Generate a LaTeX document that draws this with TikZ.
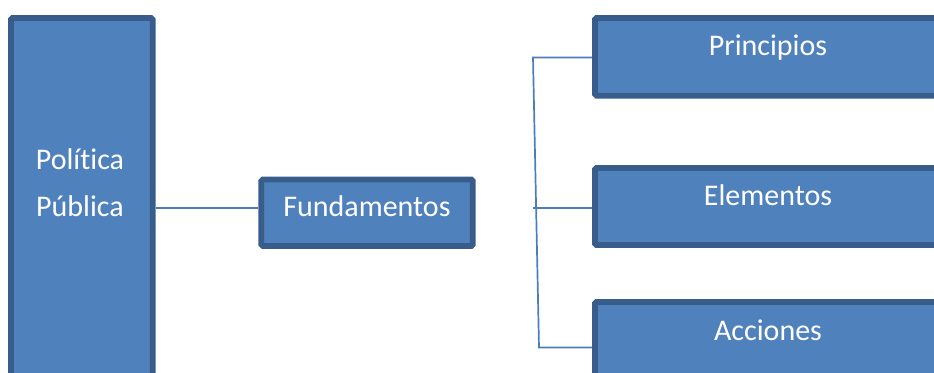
\documentclass[tikz,border=0pt]{standalone}
\usepackage{fontspec}
\setmainfont{Carlito}[Ligatures={NoCommon}]
\definecolor{boxfill}{HTML}{4F81BD}
\definecolor{boxedge}{HTML}{385D8A}
\definecolor{linkcol}{HTML}{4A7EBB}
\begin{document}
\begin{tikzpicture}[x=1pt,y=-1pt,
  blockbox/.style={draw=boxedge,fill=boxfill,line width=5.7pt,rounded corners=1.5pt,inner sep=0pt},
  boxtext/.style={text=white,font=\fontsize{30}{36}\selectfont,anchor=base,inner sep=0pt},
  link/.style={draw=linkcol,line width=1.7pt}]
\useasboundingbox (0,0) rectangle (934,372);
\clip (0,0) rectangle (934,372);
% boxes
\node[blockbox,minimum width=141.7pt,minimum height=380pt] (pp) at (81.85,208) {};
\node[blockbox,minimum width=211.5pt,minimum height=66.5pt] (fund) at (367.05,212.75) {};
\node[blockbox,minimum width=346pt,minimum height=77.7pt] (prin) at (768,56.85) {};
\node[blockbox,minimum width=346pt,minimum height=77pt] (elem) at (768,206.5) {};
\node[blockbox,minimum width=346pt,minimum height=92pt] (acc) at (768,348) {};
% texts
\node[boxtext] (t1) at (80,169) {Política};
\node[boxtext] (t2) at (80,216) {Pública};
\node[boxtext] (t3) at (367,216.5) {Fundamentos};
\node[boxtext] (t4) at (768,55) {Principios};
\node[boxtext] (t5) at (768,205) {Elementos};
\node[boxtext] (t6) at (768,340) {Acciones};
% connectors
\coordinate (b1) at (533,57.5);
\coordinate (b2) at (533,208);
\coordinate (b3) at (539,347.5);
\draw[link] (pp.east |- b2) -- (fund.west |- b2);
\draw[link] (prin.west |- b1) -- (b1) -- (b3) -- (acc.west |- b3);
\draw[link] (b2) -- (elem.west |- b2);
\end{tikzpicture}
\end{document}
